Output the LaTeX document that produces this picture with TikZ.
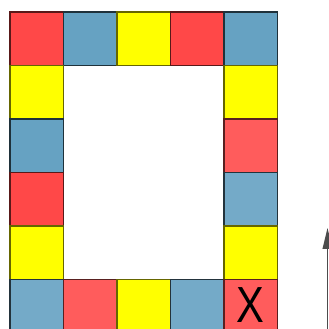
\documentclass[tikz,border=0pt]{standalone}
\usepackage{fontspec}
\setmainfont{Liberation Sans}
\usetikzlibrary{arrows.meta}
\definecolor{tilered}{HTML}{FF4848}
\definecolor{tilepink}{HTML}{FF5C5C}
\definecolor{tileblue}{HTML}{66A2C2}
\definecolor{tilesky}{HTML}{74AAC8}
\definecolor{tileyellow}{HTML}{FFFF00}
\begin{document}
\begin{tikzpicture}[
    >={Triangle[length=0.39cm,width=0.18cm]},
    sq/.style={minimum size=1cm,inner sep=0pt,line width=0.6pt},
    redsq/.style={sq,fill=tilered,draw=tilered!35!black},
    pinksq/.style={sq,fill=tilepink,draw=tilepink!35!black},
    bluesq/.style={sq,fill=tileblue,draw=tileblue!30!black},
    skysq/.style={sq,fill=tilesky,draw=tilesky!30!black},
    yellowsq/.style={sq,fill=tileyellow,draw=tileyellow!40!black}
]
\useasboundingbox (-0.187,0.075) rectangle (5.963,6.224);
\clip (-0.187,0.075) rectangle (5.963,6.224);

% top row
\node[redsq] (t1) at (0.5,5.5) {};
\node[bluesq] (t2) at (1.5,5.5) {};
\node[yellowsq] (t3) at (2.5,5.5) {};
\node[redsq] (t4) at (3.5,5.5) {};
\node[bluesq] (t5) at (4.5,5.5) {};

% left column
\node[yellowsq] (l2) at (0.5,4.5) {};
\node[bluesq] (l3) at (0.5,3.5) {};
\node[redsq] (l4) at (0.5,2.5) {};
\node[yellowsq] (l5) at (0.5,1.5) {};

% right column
\node[yellowsq] (r2) at (4.5,4.5) {};
\node[pinksq] (r3) at (4.5,3.5) {};
\node[skysq] (r4) at (4.5,2.5) {};
\node[yellowsq] (r5) at (4.5,1.5) {};

% bottom row
\node[skysq] (b1) at (0.5,0.5) {};
\node[pinksq] (b2) at (1.5,0.5) {};
\node[yellowsq] (b3) at (2.5,0.5) {};
\node[skysq] (b4) at (3.5,0.5) {};
\node[pinksq] (b5) at (4.5,0.5) {};

\node[font=\fontsize{27}{27}\selectfont] (x) at ([yshift=0.02cm]b5) {\scalebox{0.82}[1]{X}};

\coordinate (foot) at (5.935,-0.5);
\coordinate (tip) at (5.935,1.963);
\draw[->,line width=0.8pt,black!70] (foot)--(tip);
\end{tikzpicture}
\end{document}
